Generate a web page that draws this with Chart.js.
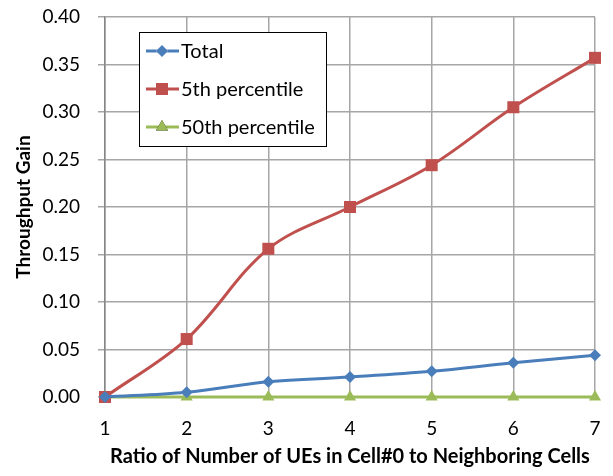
<!DOCTYPE html>
<html lang="en">
<head>
  <meta charset="UTF-8" />
  <title>Throughput Gain</title>
  <script src="https://cdn.jsdelivr.net/npm/chart.js"></script>
  <style>
    html, body { margin: 0; padding: 0; background: #fff; }
    #wrap { width: 613px; height: 476px; position: relative; }
  </style>
</head>
<body>
  <div id="wrap"><canvas id="gainChart" width="613" height="476"></canvas></div>

  <script>
    // values
    const ratios = ['1', '2', '3', '4', '5', '6', '7'];
    const totalGain = [0.000, 0.005, 0.016, 0.021, 0.027, 0.036, 0.044];
    const pct5Gain = [0.000, 0.061, 0.156, 0.200, 0.244, 0.305, 0.357];
    const pct50Gain = [0.000, 0.000, 0.000, 0.000, 0.000, 0.000, 0.000];

    const FONT = 'Lato, "Open Sans", sans-serif';
    const gridGray = '#a6a6a6';

    // legend box drawn inside the plot, like the original
    const boxLegend = {
      id: 'boxLegend',
      afterDraw(chart) {
        const ctx = chart.ctx;
        const x0 = 139.5, y0 = 32.5, w = 187, h = 114;
        ctx.save();
        ctx.fillStyle = '#fff';
        ctx.fillRect(x0, y0, w, h);
        ctx.strokeStyle = '#000';
        ctx.lineWidth = 1;
        ctx.strokeRect(x0, y0, w, h);
        chart.data.datasets.forEach((ds, i) => {
          const cy = 51 + i * 38;
          ctx.strokeStyle = ds.borderColor;
          ctx.lineWidth = 3;
          ctx.beginPath();
          ctx.moveTo(146, cy);
          ctx.lineTo(179, cy);
          ctx.stroke();
          Chart.helpers.drawPoint(ctx, {
            pointStyle: ds.pointStyle,
            radius: ds.pointRadius,
            borderWidth: 0
          }, 162, cy);
          ctx.fillStyle = ds.pointBackgroundColor;
          ctx.fill();
          ctx.fillStyle = '#000';
          ctx.font = '20px ' + FONT;
          ctx.textBaseline = 'middle';
          ctx.fillText(ds.label, 181, cy + 1);
        });
        ctx.restore();
      }
    };

    new Chart(document.getElementById('gainChart'), {
      type: 'line',
      data: {
        labels: ratios,
        datasets: [
          {
            label: 'Total', data: totalGain, clip: false,
            borderColor: '#4a7ebb', backgroundColor: '#4a7ebb', pointBackgroundColor: '#4a7ebb',
            pointStyle: 'rectRot', pointRadius: 6, pointBorderWidth: 0, borderWidth: 3, tension: 0.35
          },
          {
            label: '5th percentile', data: pct5Gain, clip: false,
            borderColor: '#c0504d', backgroundColor: '#c0504d', pointBackgroundColor: '#c0504d',
            pointStyle: 'rect', pointRadius: 8.5, pointBorderWidth: 0, borderWidth: 3, tension: 0.35
          },
          {
            label: '50th percentile', data: pct50Gain, clip: false,
            borderColor: '#9bbb59', backgroundColor: '#9bbb59', pointBackgroundColor: '#9bbb59',
            pointStyle: 'triangle', pointRadius: 7, pointBorderWidth: 0, borderWidth: 3, tension: 0.35
          }
        ]
      },
      options: {
        responsive: false,
        animation: false,
        layout: { padding: { left: 0, right: 18, top: 17, bottom: 0 } },
        plugins: { legend: { display: false }, tooltip: { enabled: false } },
        scales: {
          x: {
            offset: false,
            grid: { color: gridGray, lineWidth: 1.5, tickLength: 0, drawTicks: false },
            border: { color: '#868686', width: 1.5 },
            ticks: { color: '#000', font: { family: FONT, size: 19 }, padding: 20, maxRotation: 0 },
            title: {
              display: true, text: 'Ratio of Number of UEs in Cell#0 to Neighboring Cells',
              color: '#000', font: { family: FONT, size: 20, weight: 'bold' }, padding: { top: 0, bottom: 7 }
            },
            afterFit(scale) {
              scale.height = 79;
              scale.paddingLeft = 0;
              scale.paddingRight = 0;
            }
          },
          y: {
            min: 0, max: 0.40,
            grid: { color: gridGray, lineWidth: 1.5, tickLength: 7 },
            border: { color: '#868686', width: 1.5 },
            ticks: {
              stepSize: 0.05, color: '#000', padding: 18,
              font: { family: FONT, size: 19 },
              callback: v => v.toFixed(2)
            },
            title: {
              display: true, text: 'Throughput Gain',
              color: '#000', font: { family: FONT, size: 19, weight: 'bold' },
              padding: { top: 12, bottom: 0 }
            },
            afterFit(scale) {
              scale.width = 105;
              scale.paddingTop = 0;
              scale.paddingBottom = 0;
            }
          }
        }
      },
      plugins: [boxLegend]
    });
  </script>
</body>
</html>
